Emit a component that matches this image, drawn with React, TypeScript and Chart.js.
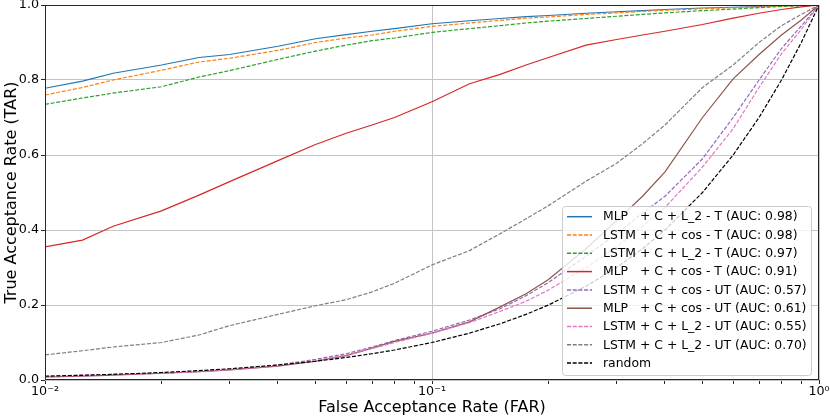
import { useEffect, useRef } from "react";
import { Chart, registerables } from "chart.js";

Chart.register(...registerables);

// False acceptance rate (log x axis)
const FAR = [
  0.01, 0.0125, 0.015, 0.02, 0.025, 0.03, 0.04, 0.05, 0.06, 0.07, 0.08, 0.1, 0.125,
  0.15, 0.175, 0.2, 0.25, 0.3, 0.35, 0.4, 0.5, 0.6, 0.7, 0.8, 0.9, 1.0,
];

// True acceptance rate per model
const mlpL2T = [
  0.778, 0.797, 0.818, 0.84, 0.86, 0.868, 0.89, 0.91, 0.921, 0.93, 0.937, 0.95, 0.958,
  0.964, 0.969, 0.972, 0.978, 0.982, 0.985, 0.988, 0.992, 0.994, 0.996, 0.998, 0.999, 1.0,
];
const lstmCosT = [
  0.76, 0.78, 0.8, 0.826, 0.848, 0.858, 0.879, 0.9, 0.912, 0.92, 0.93, 0.943, 0.952,
  0.959, 0.965, 0.968, 0.975, 0.979, 0.983, 0.986, 0.99, 0.993, 0.995, 0.997, 0.999, 1.0,
];
const lstmL2T = [
  0.735, 0.752, 0.765, 0.782, 0.808, 0.825, 0.855, 0.877, 0.893, 0.905, 0.912, 0.927, 0.937,
  0.945, 0.952, 0.957, 0.964, 0.97, 0.975, 0.979, 0.985, 0.989, 0.993, 0.996, 0.998, 1.0,
];
const mlpCosT = [
  0.355, 0.373, 0.41, 0.451, 0.493, 0.529, 0.585, 0.628, 0.658, 0.68, 0.7, 0.742, 0.79,
  0.815, 0.84, 0.86, 0.893, 0.908, 0.92, 0.93, 0.948, 0.965, 0.978, 0.988, 0.995, 1.0,
];
const lstmCosUT = [
  0.01, 0.013, 0.015, 0.018, 0.023, 0.028, 0.04, 0.055, 0.07, 0.088, 0.105, 0.13, 0.16,
  0.19, 0.225, 0.26, 0.33, 0.39, 0.445, 0.49, 0.59, 0.7, 0.8, 0.884, 0.944, 1.0,
];
const mlpCosUT = [
  0.008, 0.01, 0.013, 0.018, 0.022, 0.027, 0.037, 0.05, 0.065, 0.085, 0.103, 0.125, 0.155,
  0.195, 0.23, 0.268, 0.35, 0.425, 0.49, 0.555, 0.7, 0.803, 0.868, 0.92, 0.96, 1.0,
];
const lstmL2UT = [
  0.008, 0.011, 0.014, 0.018, 0.022, 0.027, 0.038, 0.052, 0.066, 0.084, 0.1, 0.125, 0.153,
  0.183, 0.21, 0.24, 0.3, 0.355, 0.41, 0.46, 0.568, 0.67, 0.78, 0.87, 0.935, 1.0,
];
const lstmL2UTb = [
  0.067, 0.078, 0.088, 0.1, 0.12, 0.145, 0.175, 0.198, 0.214, 0.235, 0.258, 0.307, 0.345,
  0.39, 0.43, 0.465, 0.53, 0.578, 0.63, 0.68, 0.78, 0.84, 0.9, 0.945, 0.975, 1.0,
];
const randomLine = [
  0.01, 0.0125, 0.015, 0.02, 0.025, 0.03, 0.04, 0.05, 0.06, 0.07, 0.08, 0.1, 0.125,
  0.15, 0.175, 0.2, 0.25, 0.3, 0.35, 0.4, 0.5, 0.6, 0.7, 0.8, 0.9, 1.0,
];

const LABELS = [
  "MLP   + C + L_2 - T (AUC: 0.98)",
  "LSTM + C + cos - T (AUC: 0.98)",
  "LSTM + C + L_2 - T (AUC: 0.97)",
  "MLP   + C + cos - T (AUC: 0.91)",
  "LSTM + C + cos - UT (AUC: 0.57)",
  "MLP   + C + cos - UT (AUC: 0.61)",
  "LSTM + C + L_2 - UT (AUC: 0.55)",
  "LSTM + C + L_2 - UT (AUC: 0.70)",
  "random",
];
const SERIES = [mlpL2T, lstmCosT, lstmL2T, mlpCosT, lstmCosUT, mlpCosUT, lstmL2UT, lstmL2UTb, randomLine];
const COLORS = ["#1f77b4", "#ff7f0e", "#2ca02c", "#d62728", "#9467bd", "#8c564b", "#e377c2", "#7f7f7f", "#000000"];
const DASHED = [false, true, true, false, true, false, true, true, true];

const MAJOR_TICKS = [0.01, 0.1, 1];
const X_TICK_LABELS: Record<string, string> = { "0.01": "10\u207B\u00B2", "0.1": "10\u207B\u00B9", "1": "10\u2070" };

const FONT = "DejaVu Sans";
const DASH = [4, 1.7];

const isMajor = (v: number) => MAJOR_TICKS.some((m) => Math.abs(v - m) < m * 1e-6);

// axes frame on all four sides, like matplotlib spines
const framePlugin = {
  id: "frame",
  afterDatasetsDraw(chart: any) {
    const { ctx, chartArea: a } = chart;
    ctx.save();
    ctx.strokeStyle = "#262626";
    ctx.lineWidth = 1;
    ctx.strokeRect(Math.round(a.left) + 0.5, Math.round(a.top) + 0.5, Math.round(a.right - a.left) - 1, Math.round(a.bottom - a.top) - 1);
    ctx.restore();
  },
};

// legend in lower right with translucent box
const legendPlugin = {
  id: "rocLegend",
  afterDraw(chart: any) {
    const { ctx, chartArea: a } = chart;
    const rowH = 18.3;
    const boxW = 249;
    const boxH = 169;
    const x0 = a.right - 8 - boxW;
    const y0 = a.bottom - 5 - boxH;
    ctx.save();
    ctx.beginPath();
    ctx.roundRect(x0 + 0.5, y0 + 0.5, boxW, boxH, 3);
    ctx.fillStyle = "rgba(255,255,255,0.8)";
    ctx.fill();
    ctx.strokeStyle = "#cccccc";
    ctx.lineWidth = 1;
    ctx.stroke();
    ctx.font = `12.4px "${FONT}"`;
    ctx.textBaseline = "middle";
    ctx.textAlign = "left";
    chart.data.datasets.forEach((ds: any, i: number) => {
      const y = y0 + 10.7 + i * rowH;
      ctx.beginPath();
      ctx.setLineDash(ds.borderDash || []);
      ctx.strokeStyle = ds.borderColor;
      ctx.lineWidth = 1.5;
      ctx.moveTo(x0 + 5, y);
      ctx.lineTo(x0 + 30, y);
      ctx.stroke();
      ctx.setLineDash([]);
      ctx.fillStyle = "#000";
      ctx.fillText(ds.label, x0 + 41, y + 0.5);
    });
    ctx.restore();
  },
};

export default function App() {
  const canvasRef = useRef<HTMLCanvasElement>(null);
  const chartRef = useRef<Chart | null>(null);

  useEffect(() => {
    if (!canvasRef.current) return;
    if (chartRef.current) chartRef.current.destroy();

    const datasets = SERIES.map((vals, i) => ({
      label: LABELS[i],
      data: FAR.map((x, j) => ({ x, y: vals[j] })),
      borderColor: COLORS[i],
      backgroundColor: COLORS[i],
      borderWidth: 1.2,
      borderDash: DASHED[i] ? DASH : [],
      pointRadius: 0,
      tension: 0,
      fill: false,
      // matplotlib draws later series on top; Chart.js draws lower order on top
      order: SERIES.length - i,
    }));

    chartRef.current = new Chart(canvasRef.current, {
      type: "line",
      data: { datasets },
      plugins: [framePlugin, legendPlugin],
      options: {
        animation: false,
        responsive: true,
        maintainAspectRatio: false,
        layout: { padding: { left: 0, right: 11, top: 5, bottom: 0 } },
        plugins: { legend: { display: false }, tooltip: { enabled: false } },
        scales: {
          x: {
            type: "logarithmic",
            min: 0.01,
            max: 1,
            afterBuildTicks: (scale: any) => {
              const ticks: { value: number }[] = [];
              MAJOR_TICKS.forEach((m, k) => {
                ticks.push({ value: m });
                if (k < MAJOR_TICKS.length - 1) {
                  for (let d = 2; d <= 9; d++) ticks.push({ value: m * d });
                }
              });
              scale.ticks = ticks;
            },
            afterFit: (scale: any) => {
              scale.height = 39;
              scale.paddingLeft = 0;
              scale.paddingRight = 0;
            },
            border: { display: false },
            grid: {
              color: (c: any) => (c.tick && isMajor(c.tick.value) ? "#c4c4c4" : "rgba(0,0,0,0)"),
              tickColor: "#262626",
              tickLength: 4,
              lineWidth: 1,
            },
            ticks: {
              autoSkip: false,
              maxRotation: 0,
              padding: 0,
              color: "#000",
              font: { family: FONT, size: 12.7 },
              callback: (v: any) => {
                const n = Number(v);
                if (!isMajor(n)) return "";
                const key = MAJOR_TICKS.find((m) => Math.abs(n - m) < m * 1e-6)!;
                return X_TICK_LABELS[String(key)];
              },
            },
            title: {
              display: true,
              text: "False Acceptance Rate (FAR)",
              color: "#000",
              font: { family: FONT, size: 16 },
              padding: { top: 0, bottom: 2 },
            },
          },
          y: {
            type: "linear",
            min: 0,
            max: 1,
            afterFit: (scale: any) => {
              scale.width = 45;
              scale.paddingTop = 0;
              scale.paddingBottom = 0;
            },
            border: { display: false },
            grid: { color: "#c4c4c4", tickColor: "#262626", tickLength: 4, lineWidth: 1 },
            ticks: {
              stepSize: 0.2,
              padding: 2,
              color: "#000",
              font: { family: FONT, size: 12.7 },
              callback: (v: any) => Number(v).toFixed(1),
            },
            title: {
              display: true,
              text: "True Acceptance Rate (TAR)",
              color: "#000",
              font: { family: FONT, size: 16 },
              padding: { top: 2, bottom: 0 },
            },
          },
        },
      },
    } as any);

    return () => {
      if (chartRef.current) {
        chartRef.current.destroy();
        chartRef.current = null;
      }
    };
  }, []);

  return (
    <div style={{ position: "absolute", left: 0, top: 0, width: 830, height: 419, background: "#fff" }}>
      <canvas ref={canvasRef} />
    </div>
  );
}
